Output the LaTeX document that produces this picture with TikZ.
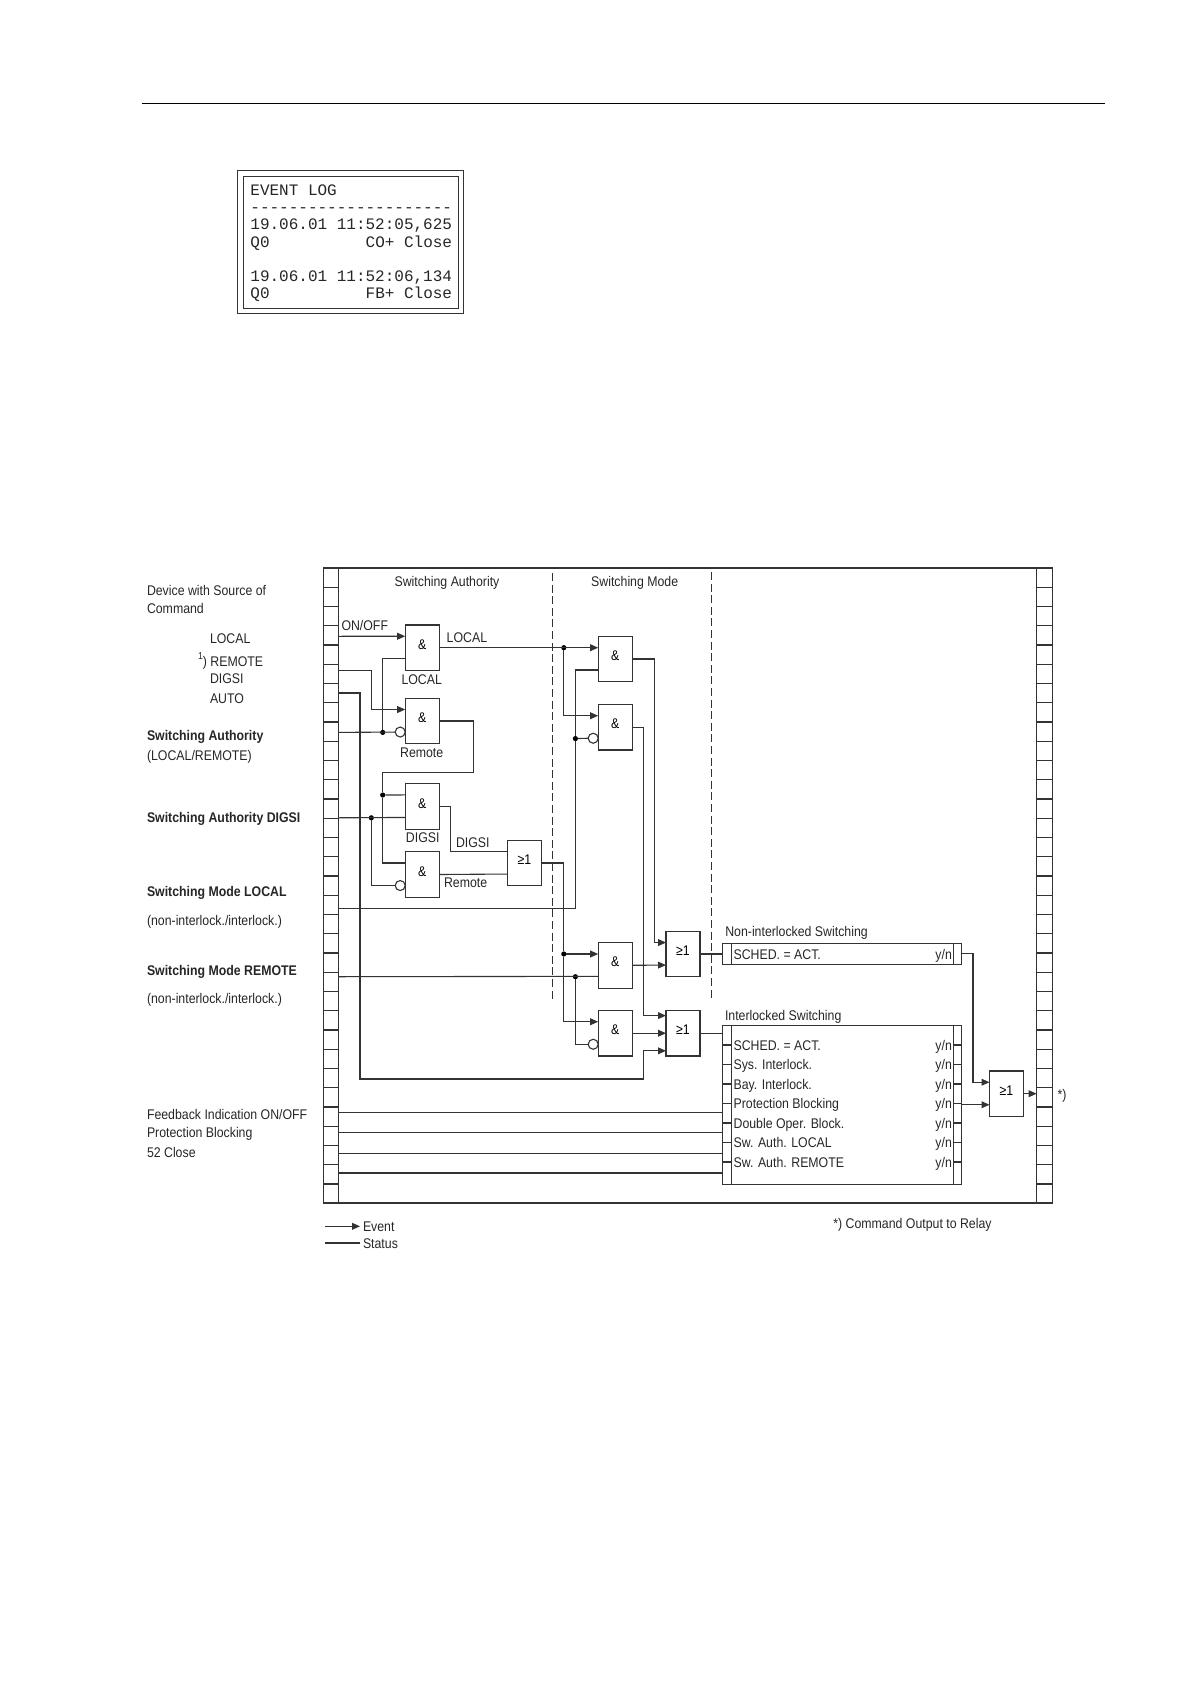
\documentclass[tikz,border=0pt]{standalone}
\usepackage{fontspec}
\setmainfont[FakeStretch=0.88]{Liberation Sans}
\setmonofont{Liberation Mono}
\usetikzlibrary{positioning, arrows.meta}

\tikzset{
  wire/.style={line width=0.55pt, black!80},
  gate/.style={draw=black!80, line width=0.55pt, minimum width=17pt, minimum height=22.75pt, inner sep=0pt, outer sep=0pt, text height=5pt, text depth=3.4pt},
  notc/.style={draw=black!80, line width=0.55pt, circle, fill=white, minimum size=5pt, inner sep=0pt, outer sep=0pt},
  dot/.style={circle, fill=black, minimum size=2.6pt, inner sep=0pt, outer sep=0pt},
  lbl/.style={anchor=west, inner sep=0pt, outer sep=0pt, text height=5pt, text depth=0pt, text=black!85},
  lblc/.style={lbl, anchor=center},
  crate/.style={draw=black!80, line width=0.55pt, minimum width=119.5pt, inner sep=0pt, outer sep=0pt},
  divider/.style={black!80, line width=0.55pt, dash pattern=on 4pt off 1.8pt},
  logline/.style={anchor=west, inner sep=0pt, font=\ttfamily\fontsize{8}{8}\selectfont, text height=5pt, text depth=0pt, text=black!85}
}

\begin{document}
\begin{tikzpicture}[x=0.5pt, y=-0.5pt, >={Stealth[length=4pt, width=3.4pt, inset=0pt]}, font=\fontsize{7}{8}\selectfont]
  \useasboundingbox (0,0) rectangle (1190,1684);

  \draw[line width=0.75pt] (141.5,103.5) -- (1105,103.5);

  \node[draw=black!80, minimum width=112.8pt, minimum height=71.3pt, inner sep=0pt] (logOuter) at (350.5,242) {};
  \node[draw=black!80, minimum width=107.3pt, minimum height=65.9pt, inner sep=0pt] (logInner) at (350.6,242.2) {};
  \node[logline] (logTitle) at (250,190.8) {EVENT LOG};
  \node[logline] (logDash) at (250,207.8) {---------------------};
  \node[logline] (logDateA) at (250,224.8) {19.06.01 11:52:05,625};
  \node[logline] (logObjA) at (250,242.3) {Q0};
  \node[logline, anchor=east] (logCmdA) at (452.5,242.3) {CO+ Close};
  \node[logline] (logDateB) at (250,276.8) {19.06.01 11:52:06,134};
  \node[logline] (logObjB) at (250,293.7) {Q0};
  \node[logline, anchor=east] (logCmdB) at (452.5,293.7) {FB+ Close};

  \node[draw=black!80, line width=0.55pt, minimum width=364.5pt, minimum height=317.5pt, inner sep=0pt, outer sep=0pt] (frame) at (688,885.5) {};
  \draw[wire] (338.7,568) -- (338.7,1203);
  \draw[wire] (1036.6,568) -- (1036.6,1203);
  \foreach \k in {1,...,32} {
    \draw[wire] (323.5,{568+\k*19.25}) -- (338.7,{568+\k*19.25});
    \draw[wire] (1036.6,{568+\k*19.25}) -- (1052.5,{568+\k*19.25});
  }

  \draw[divider] (552.7,573) -- (552.7,1000);
  \draw[divider] (711.5,572) -- (711.5,1000);

  \coordinate (inOnOff) at (338.7,636.3);
  \coordinate (inLocal) at (338.7,670.3);
  \coordinate (inAuto) at (338.7,693);
  \coordinate (inAuth) at (338.7,732.4);
  \coordinate (inAuthDigsi) at (338.7,817.8);
  \coordinate (inModeLocal) at (338.7,908.3);
  \coordinate (inModeRemote) at (338.7,976.7);
  \coordinate (inFbA) at (338.7,1112.7);
  \coordinate (inFbB) at (338.7,1132.7);
  \coordinate (inFbC) at (338.7,1153.3);
  \coordinate (inFbD) at (338.7,1173);
  \coordinate (outCmd) at (1036.6,1093.7);
  \coordinate (cAutoA) at (360,1079);
  \coordinate (cAutoB) at (643.7,1079);
  \coordinate (cRemote) at (473.3,772.3);

  \node[gate] (gLocal) at (422.2,647.7) {\&};
  \node[gate] (gRemote) at (422.2,721) {\&};
  \node[gate] (gDigsi) at (422.2,806.4) {\&};
  \node[gate] (gDigsiRemote) at (422.2,874.5) {\&};
  \node[gate] (orAuth) at (524.3,863) {≥1};
  \node[gate] (gModeA) at (615.2,659) {\&};
  \node[gate] (gModeB) at (615.2,727.2) {\&};
  \node[gate] (gModeC) at (615.2,965.3) {\&};
  \node[gate] (gModeD) at (615.2,1033.2) {\&};
  \node[gate] (orNon) at (683,954) {≥1};
  \node[gate] (orIntl) at (683,1033.2) {≥1};
  \node[gate] (orOut) at (1006.5,1093.7) {≥1};

  \node[notc, left=0pt of gRemote.213.8] (nRemote) {};
  \node[notc, left=0pt of gDigsiRemote.213.8] (nDigsi) {};
  \node[notc, left=0pt of gModeB.213.8] (nModeB) {};
  \node[notc, left=0pt of gModeD.213.8] (nModeD) {};

  \node[crate, minimum height=10.5pt] (sched) at (841.7,953.8) {};
  \node[crate, minimum height=79.3pt] (intl) at (841.7,1105) {};
  \draw[wire] ([xshift=4.45pt]sched.north west) -- ([xshift=4.45pt]sched.south west);
  \draw[wire] ([xshift=-3.95pt]sched.north east) -- ([xshift=-3.95pt]sched.south east);
  \draw[wire] ([xshift=4.45pt]intl.north west) -- ([xshift=4.45pt]intl.south west);
  \draw[wire] ([xshift=-3.95pt]intl.north east) -- ([xshift=-3.95pt]intl.south east);

  \node[dot] (dAuth) at (382.7,732.4) {};
  \node[dot] (dRemote) at (382.7,795) {};
  \node[dot] (dDigsi) at (371.3,817.8) {};
  \node[dot] (dLocal) at (563.8,647.7) {};
  \node[dot] (dOr) at (563.8,954) {};
  \node[dot] (dModeL) at (575.4,738.6) {};
  \node[dot] (dModeR) at (575.4,976.7) {};

  \draw[wire, ->] (inOnOff) -- (gLocal.146.2);
  \draw[wire] (gLocal.213.8) -| (dAuth);
  \draw[wire] (inAuth) -- (nRemote.west);
  \draw[wire, ->] (inLocal) -- ++(32.6,0) |- (gRemote.146.2);
  \draw[wire, ->] (inAuto) -| (cAutoA) -- (cAutoB) |- (orIntl.226);
  \draw[wire] (gRemote.east) -| (cRemote) -| (dRemote) |- (gDigsiRemote.146.2);
  \draw[wire] (dRemote) -- (gDigsi.146.2);
  \draw[wire] (inAuthDigsi) -- (gDigsi.213.8);
  \draw[wire] (dDigsi) |- (nDigsi.west);
  \draw[wire] (gDigsi.east) -- ++(11,0) |- (orAuth.146.2);
  \draw[wire] (gDigsiRemote.east) -- (orAuth.213.8);
  \draw[wire, ->] (gLocal.east) -- (gModeA.west |- gLocal.east);
  \draw[wire, ->] (dLocal) |- (gModeB.146.2);
  \draw[wire, ->] (orAuth.east) -| (dOr) |- (gModeD.146.2);
  \draw[wire, ->] (dOr) -- (gModeC.west |- dOr);
  \draw[wire] (inModeLocal) -| (dModeL) |- (gModeA.213.8);
  \draw[wire] (dModeL) -- (nModeB.west);
  \draw[wire] (inModeRemote) -- (gModeC.213.8);
  \draw[wire] (dModeR) |- (nModeD.west);
  \draw[wire, ->] (gModeA.east) -- ++(22.3,0) |- (orNon.146.2);
  \draw[wire, ->] (gModeB.east) -- ++(11.3,0) |- (orIntl.134);
  \draw[wire, ->] (gModeC.east) -- (orNon.213.8);
  \draw[wire, ->] (gModeD.east) -- (orIntl.west);
  \draw[wire] (orNon.east) -- (sched.west |- orNon.east);
  \draw[wire] (orIntl.east) -- (intl.west |- orIntl.east);
  \draw[wire, ->] (sched.east) -- ++(11.8,0) |- (orOut.146.2);
  \draw[wire, ->] (intl.east |- orOut.213.8) -- (orOut.213.8);
  \draw[wire, ->] (orOut.east) -- (outCmd);
  \draw[wire] (inFbA) -- (intl.west |- inFbA);
  \draw[wire] (inFbB) -- (intl.west |- inFbB);
  \draw[wire] (inFbC) -- (intl.west |- inFbC);
  \draw[wire] (inFbD) -- (intl.west |- inFbD);

  \node[lbl] (rowSched) at (733.6,954) {SCHED. = ACT.};
  \node[lbl, anchor=east] (ynSched) at (951.9,954) {y/n};
  \foreach \k/\y/\txt in {1/1045/SCHED. = ACT., 2/1064.7/Sys. Interlock., 3/1084/Bay. Interlock., 4/1103.3/Protection Blocking, 5/1123/Double Oper. Block., 6/1142.7/Sw. Auth. LOCAL, 7/1162/Sw. Auth. REMOTE} {
    \node[lbl] (row\k) at (733.6,\y) {\txt};
    \node[lbl, anchor=east] (yn\k) at (951.9,\y) {y/n};
    \draw[wire] (intl.west |- row\k) -- ++(8.9,0);
    \draw[wire] (intl.east |- yn\k) -- ++(-7.9,0);
  }

  \node[lbl] (tDevice) at (147,590) {Device with Source of};
  \node[lbl] (tCommand) at (147,608) {Command};
  \node[lbl] (tLocal) at (210,638.7) {LOCAL};
  \node[lbl] (tRemote) at (198,661) {\textsuperscript{1}\kern-0.5pt) REMOTE};
  \node[lbl] (tDigsi) at (210,678) {DIGSI};
  \node[lbl] (tAuto) at (210,698) {AUTO};
  \node[lbl, font=\fontsize{7}{8}\selectfont\bfseries] (tAuth) at (147,735) {Switching Authority};
  \node[lbl] (tAuthSub) at (147,755) {(LOCAL/REMOTE)};
  \node[lbl, font=\fontsize{7}{8}\selectfont\bfseries] (tAuthDigsi) at (147,817) {Switching Authority DIGSI};
  \node[lbl, font=\fontsize{7}{8}\selectfont\bfseries] (tModeL) at (147,891) {Switching Mode LOCAL};
  \node[lbl] (tModeLSub) at (147,920) {(non-interlock./interlock.)};
  \node[lbl, font=\fontsize{7}{8}\selectfont\bfseries] (tModeR) at (147,970) {Switching Mode REMOTE};
  \node[lbl] (tModeRSub) at (147,998.7) {(non-interlock./interlock.)};
  \node[lbl] (tFeedback) at (147,1114) {Feedback Indication ON/OFF};
  \node[lbl] (tProt) at (147,1132.7) {Protection Blocking};
  \node[lbl] (tClose) at (147,1152.7) {52 Close};

  \node[lblc] (hAuth) at (447,581) {Switching Authority};
  \node[lblc] (hMode) at (634.7,581) {Switching Mode};
  \node[lbl] (tOnOff) at (341.5,625) {ON/OFF};
  \node[lblc] (tGateLocal) at (421.7,679) {LOCAL};
  \node[lblc] (tGateRemote) at (421.7,752.7) {Remote};
  \node[lblc] (tGateDigsi) at (422.7,837) {DIGSI};
  \node[lbl] (tOutLocal) at (446.7,637.7) {LOCAL};
  \node[lbl] (tOutDigsi) at (456,842.7) {DIGSI};
  \node[lbl] (tOutRemote) at (444,882.7) {Remote};
  \node[lbl] (hNon) at (725.3,931.7) {Non-interlocked Switching};
  \node[lbl] (hIntl) at (725,1015.7) {Interlocked Switching};
  \node[lbl] (tStar) at (1057.6,1094) {*)};

  \coordinate (legA) at (325,1226.3);
  \coordinate (legB) at (360,1226.3);
  \coordinate (legC) at (325,1243);
  \coordinate (legD) at (360,1243);
  \draw[wire, ->] (legA) -- (legB);
  \draw[wire] (legC) -- (legD);
  \node[lbl] (tEvent) at (363,1226.3) {Event};
  \node[lbl] (tStatus) at (363,1243.5) {Status};
  \node[lbl] (tFoot) at (833.4,1223) {*) Command Output to Relay};
\end{tikzpicture}
\end{document}
